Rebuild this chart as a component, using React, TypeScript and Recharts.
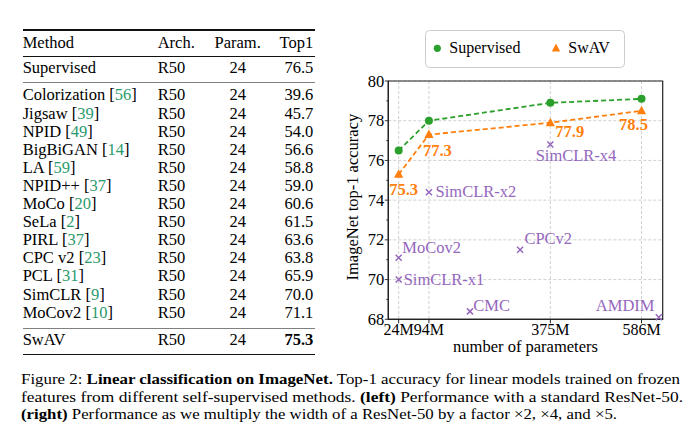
import React from "react";
import { ScatterChart, Scatter, XAxis, YAxis, CartesianGrid, Legend, ReferenceArea } from "recharts";

// right panel: top-1 accuracy vs. number of parameters
const paramCounts = [24, 94, 375, 586];
const supervisedTop1 = [76.5, 78.0, 78.9, 79.1];
const swavTop1 = [75.3, 77.3, 77.9, 78.5];
const otherMethods = ["SimCLR-x1", "MoCov2", "SimCLR-x2", "CMC", "CPCv2", "SimCLR-x4", "AMDIM"];
const otherParams = [24, 24, 94, 189, 305, 375, 626];
const otherTop1 = [70.0, 71.1, 74.4, 68.4, 71.5, 76.8, 68.1];
const seriesNames = ["Supervised", "SwAV"];
const xTicks = [24, 94, 375, 586];
const yTicks = [68, 69, 70, 71, 72, 73, 74, 75, 76, 77, 78, 79, 80];
const yMajor = [68, 70, 72, 74, 76, 78, 80];

// left panel: linear eval with a ResNet-50
const headers = ["Method", "Arch.", "Param.", "Top1"];
const tableMethods = ["Colorization", "Jigsaw", "NPID", "BigBiGAN", "LA", "NPID++", "MoCo", "SeLa", "PIRL", "CPC v2", "PCL", "SimCLR", "MoCov2"];
const tableRefs = ["56", "39", "49", "14", "59", "37", "20", "2", "37", "23", "31", "9", "10"];
const tableTop1 = ["39.6", "45.7", "54.0", "56.6", "58.8", "59.0", "60.6", "61.5", "63.6", "63.8", "65.9", "70.0", "71.1"];
const tableArch = "R50";
const tableParam = "24";
const supervisedRow = ["Supervised", "R50", "24", "76.5"];
const swavRow = ["SwAV", "R50", "24", "75.3"];

const supervised = paramCounts.map((p, i) => ({ params: p, acc: supervisedTop1[i] }));
const swav = paramCounts.map((p, i) => ({ params: p, acc: swavTop1[i], idx: i }));
const others = otherMethods.map((name, i) => ({ name, params: otherParams[i], acc: otherTop1[i] }));

const GREEN = "#2ca02c";
const ORANGE = "#ff7f0e";
const PURPLE = "#9467bd";
const CITE = "#2a9a6c";
const SERIF = "'Liberation Serif', 'Times New Roman', serif";

// label placement, px from the marker
const swavLabelPos: [number, number][] = [[-9.5, 20.5], [-6, 21.5], [5, 14], [-22.5, 19.5]];
const otherLabelPos: Record<string, [number, number, string]> = {
  "SimCLR-x1": [5, 5.7, "start"],
  MoCov2: [3.7, -5, "start"],
  "SimCLR-x2": [6.7, 4.4, "start"],
  CMC: [3.3, -0.6, "start"],
  CPCv2: [4.3, -5.7, "start"],
  "SimCLR-x4": [-14.7, 16, "start"],
  AMDIM: [-4.3, -6, "end"],
};

const Dot = ({ cx, cy }: any) => <circle cx={cx} cy={cy} r={4} fill={GREEN} />;

const Tri = ({ cx, cy, payload }: any) => {
  const [dx, dy] = swavLabelPos[payload.idx];
  return (
    <g>
      <polygon points={`${cx},${cy - 5} ${cx - 4.6},${cy + 3.5} ${cx + 4.6},${cy + 3.5}`} fill={ORANGE} />
      <text x={cx + dx} y={cy + dy} fill={ORANGE} fontWeight="bold" fontSize={16.5} fontFamily={SERIF}>
        {payload.acc.toFixed(1)}
      </text>
    </g>
  );
};

const Cross = ({ cx, cy, payload }: any) => {
  const [dx, dy, anchor] = otherLabelPos[payload.name];
  return (
    <g>
      <path d={`M${cx - 3},${cy - 3}L${cx + 3},${cy + 3}M${cx - 3},${cy + 3}L${cx + 3},${cy - 3}`} stroke={PURPLE} strokeWidth={1.5} />
      <text x={cx + dx} y={cy + dy} fill={PURPLE} fontSize={16.5} fontFamily={SERIF} textAnchor={anchor as any}>
        {payload.name}
      </text>
    </g>
  );
};

const YTick = (p: any) => {
  const v = p.payload.value;
  const major = v % 2 === 0;
  const axisX = p.x + 4;
  return (
    <g>
      <line x1={axisX - (major ? 3.5 : 2)} x2={axisX} y1={p.y} y2={p.y} stroke="#222" strokeWidth={0.9} />
      {major && (
        <text x={p.x} y={p.y + 5.5} textAnchor="end" fontSize={16.5} fontFamily={SERIF} fill="#000">
          {v}
        </text>
      )}
    </g>
  );
};

const YTitle = (props: any) => {
  const vb = props.viewBox;
  const x = vb.x;
  const y = vb.y + vb.height / 2 - 3;
  return (
    <text x={x} y={y} transform={`rotate(-90 ${x} ${y})`} textAnchor="middle" fontSize={16.5} fontFamily={SERIF} fill="#000">
      ImageNet top-1 accuracy
    </text>
  );
};

const XTitle = (props: any) => {
  const vb = props.viewBox;
  return (
    <text x={vb.x + vb.width / 2} y={vb.y + 32.5} textAnchor="middle" fontSize={16.5} fontFamily={SERIF} fill="#000">
      number of parameters
    </text>
  );
};

const LegendBox = () => (
  <svg width={200} height={38} style={{ display: "block" }}>
    <rect x={0.5} y={0.5} width={199} height={37} rx={4} fill="#fff" stroke="#ccc" />
    <circle cx={12.3} cy={18.3} r={3.6} fill={GREEN} />
    <text x={24.3} y={23.3} fontSize={16} fontFamily={SERIF} fill="#000">{seriesNames[0]}</text>
    <polygon points="131,13.6 126.8,21.6 135.2,21.6" fill={ORANGE} />
    <text x={143.3} y={23.3} fontSize={16} fontFamily={SERIF} fill="#000">{seriesNames[1]}</text>
  </svg>
);

function ParamChart() {
  return (
    <ScatterChart width={361} height={345} margin={{ top: 61, right: 28.3, bottom: 15.7, left: 28.3 }}>
      <CartesianGrid horizontalValues={yMajor} verticalValues={xTicks} stroke="#c4c4c4" strokeDasharray="3 2" strokeWidth={0.8} />
      <XAxis
        type="number"
        dataKey="params"
        domain={[0, 635]}
        ticks={xTicks}
        interval={0}
        tickFormatter={(v: number) => `${v}M`}
        tickSize={4}
        tickMargin={0.5}
        height={30}
        axisLine={{ stroke: "#222", strokeWidth: 1.2 }}
        tickLine={{ stroke: "#222" }}
        tick={{ fill: "#000", fontSize: 16, fontFamily: SERIF }}
        label={XTitle}
      />
      <YAxis
        type="number"
        dataKey="acc"
        domain={[68, 80]}
        ticks={yTicks}
        interval={0}
        width={30}
        tickSize={0}
        tickMargin={4}
        tickLine={false}
        axisLine={{ stroke: "#222", strokeWidth: 1.2 }}
        tick={YTick}
        label={YTitle}
      />
      <ReferenceArea x1={0} x2={635} y1={68} y2={80} fill="none" stroke="#222" strokeWidth={1.2} ifOverflow="visible" />
      <Legend
        layout="horizontal"
        verticalAlign="middle"
        align="center"
        wrapperStyle={{ left: 95, top: 10, width: 200, height: 38 }}
        content={() => <LegendBox />}
      />
      <Scatter
        name={seriesNames[0]}
        data={supervised}
        fill={GREEN}
        line={{ stroke: GREEN, strokeWidth: 1.8, strokeDasharray: "5 3" }}
        shape={Dot}
        isAnimationActive={false}
      />
      <Scatter
        name={seriesNames[1]}
        data={swav}
        fill={ORANGE}
        line={{ stroke: ORANGE, strokeWidth: 1.8, strokeDasharray: "5 3" }}
        shape={Tri}
        isAnimationActive={false}
      />
      <Scatter name="others" data={others} fill={PURPLE} shape={Cross} isAnimationActive={false} legendType="none" />
    </ScatterChart>
  );
}

const cell = (left: number, width: number, align: "left" | "center" | "right"): React.CSSProperties => ({
  position: "absolute",
  left,
  width,
  textAlign: align,
  whiteSpace: "nowrap",
});

function Row({ top, cells, bold }: { top: number; cells: React.ReactNode[]; bold?: boolean }) {
  return (
    <div style={{ position: "absolute", left: 0, top, width: 340, height: 18, lineHeight: "18px", fontSize: 16.5 }}>
      <div style={cell(22.7, 130, "left")}>{cells[0]}</div>
      <div style={cell(157.7, 50, "left")}>{cells[1]}</div>
      <div style={cell(207.7, 60, "center")}>{cells[2]}</div>
      <div style={{ ...cell(263.3, 50, "right"), fontWeight: bold ? "bold" : "normal" }}>{cells[3]}</div>
    </div>
  );
}

const rule = (top: number, h: number, color: string): React.CSSProperties => ({
  position: "absolute",
  left: 22.7,
  width: 292.3,
  top: top - h / 2,
  height: h,
  background: color,
});

function MethodTable() {
  return (
    <>
      <div style={rule(30, 1.2, "#111")} />
      <Row top={33.7} cells={headers} />
      <div style={rule(56, 0.8, "#111")} />
      <Row top={59.4} cells={supervisedRow} />
      <div style={rule(82.3, 1.4, "#808080")} />
      {tableMethods.map((m, i) => (
        <Row
          key={m}
          top={86.4 + i * 18.1}
          cells={[
            <span key="m">
              {m} [<span style={{ color: CITE }}>{tableRefs[i]}</span>]
            </span>,
            tableArch,
            tableParam,
            tableTop1[i],
          ]}
        />
      ))}
      <div style={rule(328.3, 1.4, "#808080")} />
      <Row top={331.1} cells={swavRow} bold />
      <div style={rule(354.3, 1.2, "#111")} />
    </>
  );
}

// caption lines are stretched to the widths they take in the figure
function Caption() {
  const t = { x: 21, fontSize: 14.5, fontFamily: SERIF, fill: "#000", lengthAdjust: "spacingAndGlyphs" as const };
  return (
    <svg width={691} height={75} style={{ position: "absolute", left: 0, top: 360 }}>
      <text {...t} y={24.3} textLength={659}>
        Figure 2: <tspan fontWeight="bold">Linear classification on ImageNet.</tspan> Top-1 accuracy for linear models trained on frozen
      </text>
      <text {...t} y={42.3} textLength={662}>
        features from different self-supervised methods.  <tspan fontWeight="bold">(left)</tspan> Performance with a standard ResNet-50.
      </text>
      <text {...t} y={59.3} textLength={596}>
        <tspan fontWeight="bold">(right)</tspan> Performance as we multiply the width of a ResNet-50 by a factor ×2, ×4, and ×5.
      </text>
    </svg>
  );
}

export default function App() {
  return (
    <div
      style={{
        position: "absolute",
        left: 0,
        top: 0,
        width: 691,
        height: 435,
        background: "#fff",
        fontFamily: SERIF,
        color: "#000",
        overflow: "hidden",
      }}
    >
      <MethodTable />
      <div style={{ position: "absolute", left: 330, top: 20 }}>
        <ParamChart />
      </div>
      <Caption />
    </div>
  );
}
